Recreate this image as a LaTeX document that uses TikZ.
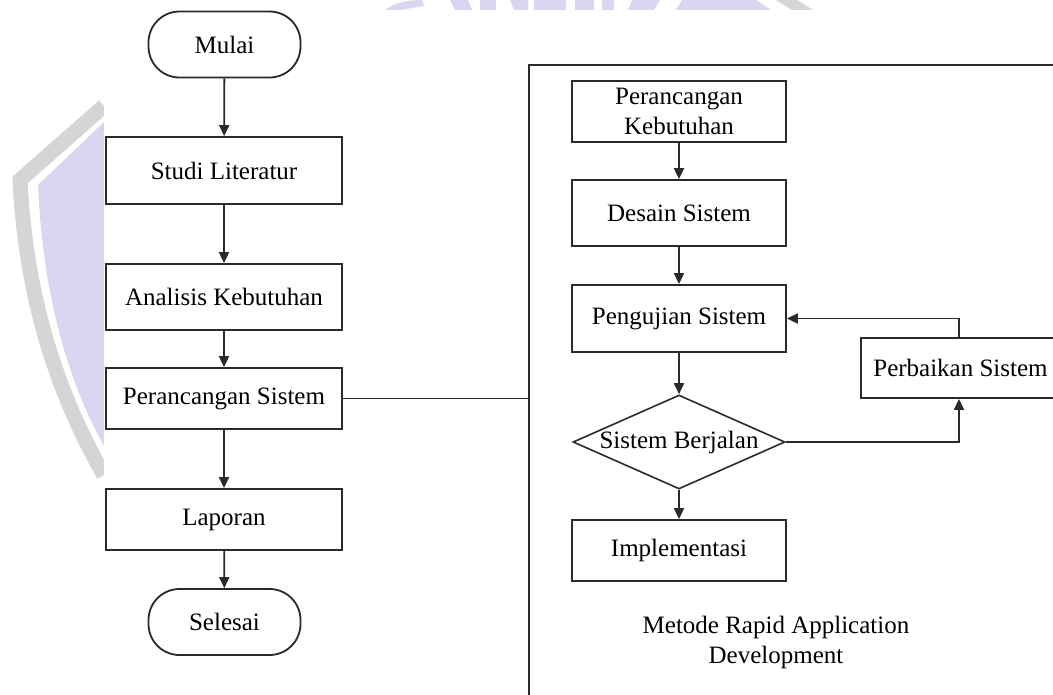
\documentclass[tikz,border=0pt]{standalone}
\usepackage{fontspec}
\setmainfont{Liberation Serif}
\usetikzlibrary{shapes.geometric,arrows.meta}

\definecolor{lineclr}{HTML}{2A2A2A}
\definecolor{wmlav}{HTML}{D9D6F1}
\definecolor{wmgray}{HTML}{D5D5D5}

\tikzset{
  every node/.style={font=\fontsize{25}{30}\selectfont, text=black},
  procbox/.style={draw=lineclr, line width=1.8pt, rectangle, fill=white,
                  inner sep=0pt, align=center},
  terminal/.style={draw=lineclr, line width=1.8pt, rectangle, rounded corners=31pt,
                   fill=white, minimum width=152pt, minimum height=66pt, inner sep=0pt},
  decision/.style={draw=lineclr, line width=1.6pt, diamond, fill=white, inner sep=0pt,
                   minimum width=212pt, minimum height=94pt},
  flow/.style={draw=lineclr, line width=1.8pt, -{Triangle[length=11pt,width=10pt]}},
  link/.style={draw=lineclr, line width=1.8pt},
}

\begin{document}
\begin{tikzpicture}[x=1pt, y=-1pt]
\useasboundingbox (0,0) rectangle (1053,694);

% faint watermark behind the chart
\draw[wmgray, line width=15pt] (104,106) -- (20,180)
   .. controls (26,300) and (58,395) .. (104,475);
\fill[wmlav] (104,122) -- (38,185) .. controls (43,300) and (70,385) .. (104,446) -- cycle;
\fill[wmlav] (385,10) .. controls (395,2) and (410,0) .. (422,0) -- (424,6) -- (400,10) -- cycle;
\fill[wmlav] (450,0) -- (468,0) -- (472,10) -- (455,10) -- cycle;
\fill[wmlav] (480,0) -- (496,0) -- (496,10) -- (480,10) -- cycle;
\fill[wmlav] (510,0) -- (528,0) -- (528,10) -- (514,10) -- cycle;
\fill[wmlav] (534,0) -- (566,0) -- (566,10) -- (534,10) -- cycle;
\fill[wmlav] (575,0) -- (594,0) -- (594,10) -- (575,10) -- cycle;
\fill[wmlav] (602,0) -- (614,0) -- (614,10) -- (602,10) -- cycle;
\fill[wmlav] (632,0) -- (660,0) -- (654,10) -- (628,10) -- cycle;
\fill[wmlav] (682,0) -- (756,0) -- (771,10) -- (676,10) -- cycle;
\fill[wmgray] (776,0) -- (797,0) -- (813,10) -- (792,10) -- cycle;

% chart background
\fill[white] (104,10) rectangle (1053,694);

% main flow
\node[terminal] (mulai)   at (224.5,44.5)  {Mulai};
\node[procbox, minimum width=236pt, minimum height=67pt] (studi)    at (224,170.5) {Studi Literatur};
\node[procbox, minimum width=236pt, minimum height=66pt] (analisis) at (224,297)   {Analisis Kebutuhan};
\node[procbox, minimum width=236pt, minimum height=61pt] (psistem)  at (224,398.5) {Perancangan Sistem};
\node[procbox, minimum width=236pt, minimum height=61pt] (laporan)  at (224,519.5) {Laporan};
\node[terminal] (selesai) at (224.5,622) {Selesai};

\draw[flow] (mulai) -- (studi);
\draw[flow] (studi) -- (analisis);
\draw[flow] (analisis) -- (psistem);
\draw[flow] (psistem) -- (laporan);
\draw[flow] (laporan) -- (selesai);

% RAD frame (runs off the right and bottom edges)
\node[draw=lineclr, line width=1.8pt, rectangle, inner sep=0pt, anchor=north west,
      minimum width=545pt, minimum height=650pt] (frame) at (528,64) {};
\draw[link] (psistem.east) -- (psistem.east -| frame.west);

% RAD steps
\node[procbox, minimum width=214pt, minimum height=61pt] (pkeb)   at (679,111.5) {Perancangan\\Kebutuhan};
\node[procbox, minimum width=214pt, minimum height=66pt] (desain) at (679,213)   {Desain Sistem};
\node[procbox, minimum width=214pt, minimum height=67pt] (uji)    at (679,318.5) {Pengujian Sistem};
\node[decision] (jalan) at (679,442) {\makebox[0pt][c]{Sistem Berjalan}};
\node[procbox, minimum width=214pt, minimum height=61pt] (impl)   at (679,550.5) {Implementasi};
\node[procbox, minimum width=199pt, minimum height=60pt] (fix)    at (960.5,368) {Perbaikan Sistem};

\draw[flow] (pkeb) -- (desain);
\draw[flow] (desain) -- (uji);
\draw[flow] (uji) -- (jalan);
\draw[flow] (jalan) -- (impl);
\draw[flow] (jalan.east) -| ([xshift=-1.5pt]fix.south);
\draw[flow] ([xshift=-1.5pt]fix.north) |- (uji.east);

\node[align=center, inner sep=0pt] (radlabel) at (776,642)
  {Metode Rapid Application\\Development};
\end{tikzpicture}
\end{document}
